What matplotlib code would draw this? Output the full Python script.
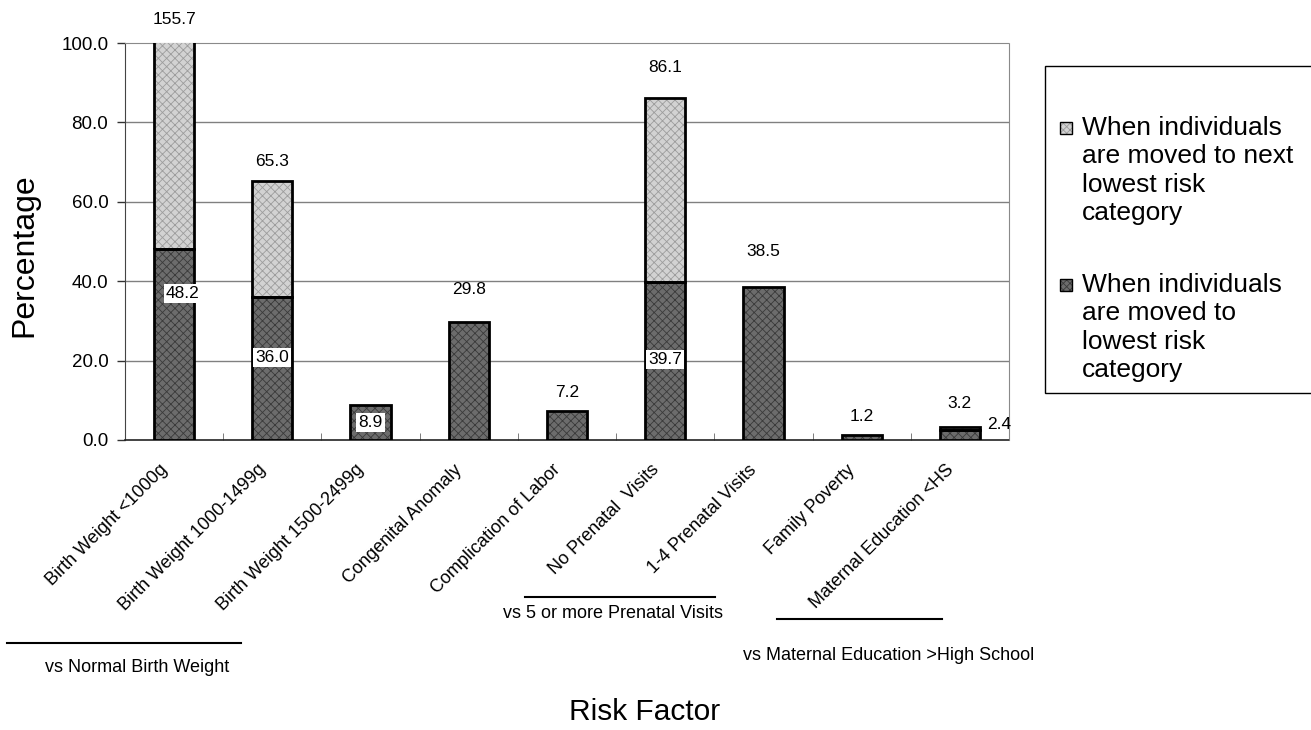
import matplotlib
matplotlib.use("Agg")
import matplotlib.pyplot as plt
import numpy as np
from matplotlib.patches import Rectangle
from matplotlib.lines import Line2D
from matplotlib.transforms import ScaledTranslation

plt.rcParams['font.family'] = ['Liberation Sans', 'DejaVu Sans']
plt.rcParams['hatch.linewidth'] = 0.6

categories = ["Birth Weight <1000g", "Birth Weight 1000-1499g", "Birth Weight 1500-2499g",
              "Congenital Anomaly", "Complication of Labor", "No Prenatal  Visits",
              "1-4 Prenatal Visits", "Family Poverty", "Maternal Education <HS"]
lowest_risk = [48.2, 36.0, 8.9, 29.8, 7.2, 39.7, 38.5, 1.2, 2.4]
totals = [155.7, 65.3, 8.9, 29.8, 7.2, 86.1, 38.5, 1.2, 3.2]
next_lowest_extra = [t - l for t, l in zip(totals, lowest_risk)]

# which values are shown where
top_labels = ["155.7", "65.3", None, "29.8", "7.2", "86.1", "38.5", "1.2", "3.2"]
boxed_labels = ["48.2", "36.0", "8.9", None, None, "39.7", None, None, None]
side_label = (8, "2.4")

# label placement (gap above bar in px, y of boxed labels in data units)
top_gap_px = [23, 19, 0, 32, 19, 31, 36, 19, 24]
boxed_y = [37.0, 20.7, 4.5, 0, 0, 20.2, 0, 0, 0]
boxed_dx = [0.09, 0, 0, 0, 0, 0, 0, 0, 0]

legend_labels = [["When individuals", "are moved to next", "lowest risk", "category"],
                 ["When individuals", "are moved to", "lowest risk", "category"]]

W, H = 1311, 730
fig = plt.figure(figsize=(W / 100, H / 100), dpi=100)
ax = fig.add_axes([125 / W, 1 - 440 / H, (1009 - 125) / W, (440 - 43) / H])

x = np.arange(len(categories))
bw = 0.41
dark_fc, dark_hc = '#6c6c6c', '#3a3a3a'
light_fc, light_hc = '#d2d2d2', '#9c9c9c'

ax.bar(x, lowest_risk, bw, color=dark_fc, hatch='xxxx', edgecolor=dark_hc, linewidth=0, zorder=3)
ax.bar(x, lowest_risk, bw, fill=False, edgecolor='black', linewidth=2, zorder=4)

ext = [i for i, v in enumerate(next_lowest_extra) if v > 0.05]
ax.bar(x[ext], [next_lowest_extra[i] for i in ext], bw, bottom=[lowest_risk[i] for i in ext],
       color=light_fc, hatch='xxxx', edgecolor=light_hc, linewidth=0, zorder=3)
ax.bar(x[ext], [next_lowest_extra[i] for i in ext], bw, bottom=[lowest_risk[i] for i in ext],
       fill=False, edgecolor='black', linewidth=2, zorder=4)

ax.set_xlim(-0.5, len(categories) - 0.5)
ax.set_ylim(0, 100)
ax.set_yticks(np.arange(0, 101, 20))
ax.set_yticklabels([f"{v:.1f}" for v in np.arange(0, 101, 20)], fontsize=13.5)
ax.tick_params(axis='y', direction='out', length=6, width=1, color='#333333', pad=6)

ax.yaxis.grid(True, color='#808080', linewidth=1, zorder=0)
gl = ax.get_ygridlines()
gl[0].set_visible(False)
gl[-1].set_visible(False)
ax.set_axisbelow(True)

for side in ['top', 'right']:
    ax.spines[side].set_linestyle((0, (1, 1)))
    ax.spines[side].set_color('#8a8a8a')
ax.spines['left'].set_linestyle((0, (1, 1)))
ax.spines['left'].set_color('#444444')
ax.spines['bottom'].set_linestyle((0, (2, 1)))
ax.spines['bottom'].set_color('#222222')
ax.spines['bottom'].set_linewidth(1.2)

ax.set_xticks(x)
ax.set_xticks(np.arange(0.5, len(categories) - 1, 1), minor=True)
ax.tick_params(axis='x', which='major', length=0, pad=6)
ax.tick_params(axis='x', which='minor', direction='in', length=5, color='#666666')
ax.set_xticklabels(categories, rotation=45, ha='right', va='center',
                   rotation_mode='anchor', fontsize=13)
for lab in ax.get_xticklabels():
    lab.set_transform(lab.get_transform() + ScaledTranslation(-0.09, -0.19, fig.dpi_scale_trans))

# value labels
for i in range(len(categories)):
    if top_labels[i]:
        ax.annotate(top_labels[i], xy=(x[i], min(totals[i], 100)),
                    xytext=(0, top_gap_px[i] * 0.72), textcoords='offset points',
                    ha='center', va='center', fontsize=12.5, annotation_clip=False)
    if boxed_labels[i]:
        ax.text(x[i] + boxed_dx[i], boxed_y[i], boxed_labels[i], ha='center', va='center',
                fontsize=12.5, zorder=6,
                bbox=dict(facecolor='white', edgecolor='none', pad=1.5))
si, stext = side_label
ax.annotate(stext, xy=(x[si] + bw / 2, lowest_risk[si]), xytext=(5, 4),
            textcoords='offset points', ha='left', va='center', fontsize=12.5,
            annotation_clip=False)

# group brackets below the category labels
def bracket(x0, x1, y, text, tx, ty):
    fig.add_artist(Line2D([x0 / W, x1 / W], [1 - y / H, 1 - y / H], color='black', linewidth=1.5))
    fig.text(tx / W, 1 - ty / H, text, ha='center', va='center', fontsize=13)

bracket(7, 241, 643, "vs Normal Birth Weight", 137, 667)
bracket(525, 715, 597, "vs 5 or more Prenatal Visits", 613, 613)
bracket(777, 942, 619, "vs Maternal Education >High School", 889, 655)

fig.text(645 / W, 1 - 712 / H, "Risk Factor", ha='center', va='center', fontsize=21.5)
fig.text(24 / W, 1 - 255 / H, "Percentage", ha='center', va='center', rotation=90, fontsize=23)

# legend box drawn by hand, so the swatch sits on the first line of each entry
fig.add_artist(Rectangle((1045 / W, 1 - 393 / H), (1325 - 1045) / W, (393 - 66) / H,
                         transform=fig.transFigure, facecolor='white', edgecolor='black',
                         linewidth=1, clip_on=False))
line_h = 28.3
for k, (lines, fc, hc) in enumerate(zip(legend_labels, [light_fc, dark_fc], [light_hc, dark_hc])):
    y0 = 128 + k * 157
    fig.add_artist(Rectangle((1060 / W, 1 - (y0 + 6) / H), 12 / W, 12 / H,
                             transform=fig.transFigure, facecolor=fc, hatch='xxxxx',
                             edgecolor=hc, linewidth=0))
    fig.add_artist(Rectangle((1060 / W, 1 - (y0 + 6) / H), 12 / W, 12 / H,
                             transform=fig.transFigure, fill=False,
                             edgecolor='black', linewidth=1))
    for j, txt in enumerate(lines):
        fig.text(1082 / W, 1 - (y0 + j * line_h) / H, txt, ha='left', va='center', fontsize=19)

fig.savefig("out.png", dpi=100)
